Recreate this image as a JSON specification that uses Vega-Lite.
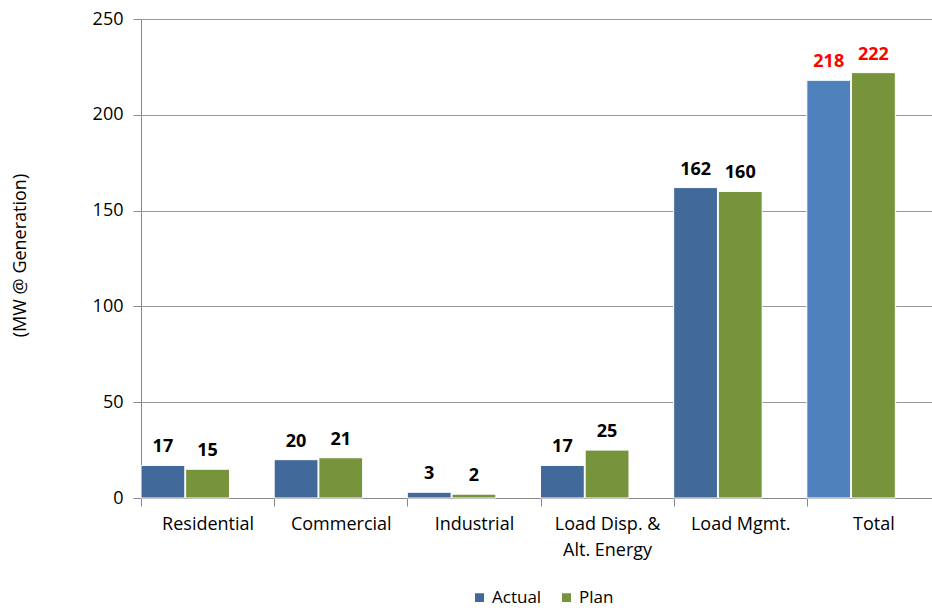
{
  "$schema": "https://vega.github.io/schema/vega-lite/v6.json",
  "autosize": "none",
  "width": 799,
  "height": 479,
  "padding": {"left": 141, "top": 19, "right": 0, "bottom": 112},
  "background": "white",
  "config": {
    "font": "Open Sans",
    "view": {"stroke": null}
  },
  "data": {
    "values": [
      {"category": "Residential", "series": "Actual", "value": 17},
      {"category": "Residential", "series": "Plan", "value": 15},
      {"category": "Commercial", "series": "Actual", "value": 20},
      {"category": "Commercial", "series": "Plan", "value": 21},
      {"category": "Industrial", "series": "Actual", "value": 3},
      {"category": "Industrial", "series": "Plan", "value": 2},
      {"category": "Load Disp. & Alt. Energy", "series": "Actual", "value": 17},
      {"category": "Load Disp. & Alt. Energy", "series": "Plan", "value": 25},
      {"category": "Load Mgmt.", "series": "Actual", "value": 162},
      {"category": "Load Mgmt.", "series": "Plan", "value": 160},
      {"category": "Total", "series": "Actual", "value": 218},
      {"category": "Total", "series": "Plan", "value": 222}
    ]
  },
  "encoding": {
    "x": {
      "field": "category",
      "type": "nominal",
      "sort": null,
      "scale": {"paddingInner": 0, "paddingOuter": 0},
      "axis": {
        "title": null,
        "labelAngle": 0,
        "labelFontSize": 18,
        "labelColor": "#000",
        "labelPadding": 9,
        "tickSize": 8,
        "tickBand": "extent",
        "domainColor": "#888",
        "tickColor": "#888",
        "labelExpr": "datum.label == 'Load Disp. & Alt. Energy' ? ['Load Disp. &', 'Alt. Energy'] : datum.label",
        "labelLineHeight": 26
      }
    },
    "xOffset": {
      "field": "series",
      "type": "nominal",
      "scale": {"domain": ["Actual", "Plan", "pad"], "paddingInner": 0.02, "paddingOuter": 0}
    },
    "y": {
      "field": "value",
      "type": "quantitative",
      "scale": {"domain": [0, 250]},
      "axis": {
        "title": "(MW @ Generation)",
        "titleFontSize": 18,
        "titleFontWeight": "normal",
        "titleColor": "#000",
        "titleX": -121,
        "titleY": 236,
        "titleAngle": -90,
        "titleAlign": "center",
        "titleBaseline": "middle",
        "values": [0, 50, 100, 150, 200, 250],
        "labelFontSize": 18,
        "labelColor": "#000",
        "labelPadding": 10,
        "tickSize": 8,
        "tickColor": "#888",
        "domainColor": "#888",
        "gridColor": "#999",
        "grid": true
      }
    }
  },
  "layer": [
    {
      "mark": {"type": "bar", "stroke": "white", "strokeWidth": 1},
      "encoding": {
        "color": {
          "field": "series",
          "type": "nominal",
          "scale": {"domain": ["Actual", "Plan"], "range": ["#41699A", "#77933C"]},
          "legend": {
            "title": null,
            "orient": "none",
            "direction": "horizontal",
            "legendX": 330,
            "legendY": 570,
            "symbolType": "square",
            "symbolSize": 110,
            "labelFontSize": 17,
            "labelColor": "#000",
            "columnPadding": 16
          },
          "condition": {"test": "datum.category == 'Total' && datum.series == 'Actual'", "value": "#4F81BD"}
        }
      }
    },
    {
      "mark": {"type": "text", "dy": -9, "baseline": "bottom", "fontSize": 18, "fontWeight": "bold"},
      "encoding": {
        "text": {"field": "value", "type": "quantitative"},
        "color": {
          "condition": {"test": "datum.category == 'Total'", "value": "#FF0000"},
          "value": "#000000"
        }
      }
    }
  ]
}
